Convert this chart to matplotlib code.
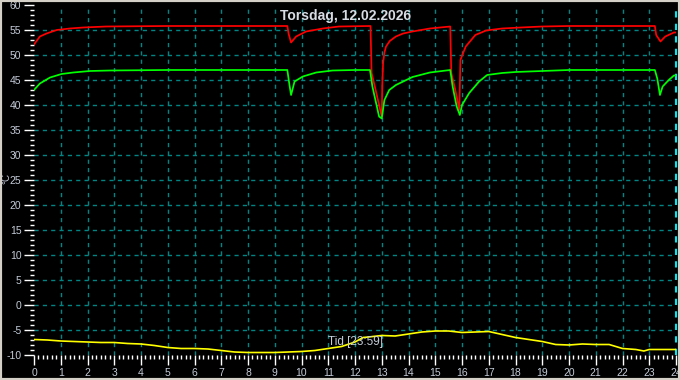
import matplotlib
matplotlib.use("Agg")
import matplotlib.pyplot as plt
from matplotlib.patches import Rectangle
from matplotlib.ticker import MultipleLocator

title = "Torsdag, 12.02.2026"
ylabel = "°C"
xlabel = "Tid [23:59]"
x_ticks = list(range(0, 25))
y_ticks = list(range(-10, 65, 5))

red_t = [0.0, 0.22, 0.47, 0.85, 1.34, 1.84, 2.7, 5.0, 9.47,
         9.52, 9.61, 9.8, 10.17, 10.8, 11.4, 12.58,
         12.62, 12.75, 12.9, 13.0, 13.02, 13.05, 13.1, 13.16, 13.3, 13.53, 13.8, 14.15, 14.8, 15.56,
         15.6, 15.75, 15.9, 15.94, 16.14, 16.5, 16.9, 17.5, 18.2, 19.0, 20.0, 23.21,
         23.26, 23.42, 23.6, 23.92, 24.0]
red_v = [52.1, 53.7, 54.3, 55.0, 55.3, 55.5, 55.7, 55.8, 55.8,
         54.2, 52.5, 53.7, 54.7, 55.3, 55.7, 55.8,
         46.4, 43.5, 40.0, 37.6, 44.0, 48.4, 50.5, 51.7, 52.8, 53.7, 54.3, 54.7, 55.3, 55.7,
         46.4, 43.0, 39.0, 49.0, 51.7, 54.0, 54.9, 55.3, 55.5, 55.7, 55.8, 55.8,
         54.0, 52.7, 53.7, 54.5, 54.5]

green_t = [0.0, 0.22, 0.6, 1.03, 1.47, 2.09, 2.84, 5.0, 9.47,
           9.55, 9.61, 9.74, 10.05, 10.55, 11.16, 12.0, 12.56,
           12.65, 12.9, 13.0, 13.1, 13.28, 13.53, 14.15, 14.8, 15.56,
           15.65, 15.8, 15.92, 16.0, 16.27, 16.64, 16.94, 17.5, 18.0, 19.0, 20.0, 23.21,
           23.3, 23.4, 23.5, 23.73, 23.92, 24.0]
green_v = [43.0, 44.3, 45.5, 46.2, 46.5, 46.8, 46.9, 47.0, 47.0,
           44.0, 42.0, 44.7, 45.7, 46.5, 46.9, 47.0, 47.0,
           43.7, 37.7, 37.3, 41.0, 43.0, 44.0, 45.6, 46.5, 47.0,
           43.7, 39.7, 38.0, 40.0, 42.4, 44.7, 46.0, 46.4, 46.6, 46.8, 47.0, 47.0,
           45.3, 42.0, 43.7, 45.0, 45.9, 45.9]

yellow_t = [0, 0.5, 1, 1.5, 2, 2.5, 3, 3.5, 4, 4.5, 5, 5.5, 6, 6.5, 7, 7.5, 8, 8.5,
            9, 9.5, 10, 10.5, 11, 11.5, 12, 12.3, 12.5, 13, 13.5, 14, 14.5, 15, 15.5,
            16, 16.5, 17, 17.5, 18, 18.5, 19, 19.5, 20, 20.5, 21, 21.5, 22, 22.5, 22.8,
            23, 24]
yellow_v = [-6.9, -7.0, -7.2, -7.3, -7.4, -7.5, -7.5, -7.7, -7.8, -8.1, -8.5, -8.7,
            -8.7, -8.8, -9.1, -9.4, -9.5, -9.5, -9.5, -9.4, -9.3, -9.1, -8.7, -8.3,
            -7.4, -6.5, -6.4, -6.1, -6.2, -5.8, -5.4, -5.2, -5.2, -5.5, -5.4, -5.3,
            -5.9, -6.5, -6.9, -7.3, -7.9, -8.0, -7.8, -7.9, -7.9, -8.7, -8.9, -9.2,
            -8.9, -8.9]

fig = plt.figure(figsize=(6.8, 3.8), dpi=100, facecolor="black")
ax = fig.add_axes([34 / 680, 25 / 380, 642 / 680, 350 / 380], facecolor="black")

txt_color = "#c4ccd8"
font = ["Liberation Sans", "DejaVu Sans"]

ax.plot(red_t, red_v, color="#ff0000", lw=1.25, zorder=3)
ax.plot(green_t, green_v, color="#00ff00", lw=1.25, zorder=3)
ax.plot(yellow_t, yellow_v, color="#ffff00", lw=1.2, zorder=3)

ax.set_xlim(0, 24)
ax.set_ylim(-10, 60)
ax.set_xticks(x_ticks)
ax.set_xticklabels([str(t) for t in x_ticks])
ax.set_yticks(y_ticks)
ax.set_yticklabels([str(t) for t in y_ticks])
ax.xaxis.set_minor_locator(MultipleLocator(1 / 6))
ax.yaxis.set_minor_locator(MultipleLocator(1))

for s in ax.spines.values():
    s.set_visible(False)

ax.tick_params(axis="both", which="major", colors="white", labelcolor=txt_color,
               labelsize=7.5, length=7, width=1, direction="out", pad=2)
ax.tick_params(axis="both", which="minor", colors="white", length=3, width=1, direction="out")
for lab in ax.get_xticklabels() + ax.get_yticklabels():
    lab.set_family(font)

for t in x_ticks[1:-1]:
    ax.axvline(t, color="#008484", lw=1, ls=(0, (3, 3)), zorder=1)
for v in y_ticks[1:-1]:
    ax.axhline(v, color="#008484", lw=1, ls=(0, (3, 3)), zorder=1)
ax.axvline(24, color="#00e8f0", lw=1.5, ls=(0, (3, 3)), zorder=2, clip_on=False)

fig.text(346 / 680, 1 - 16 / 380, title, color="#d8dce4", fontsize=10,
         ha="center", va="center", family=font, fontweight="bold")
fig.text(6 / 680, 1 - 179 / 380, ylabel, color=txt_color, fontsize=7,
         ha="center", va="center", rotation=90, family=font)
ax.text(0.5, 0.02, xlabel, transform=ax.transAxes, color=txt_color, fontsize=8.5,
        ha="center", va="bottom", family=font, zorder=4)

fig.patches.append(Rectangle((0, 0), 1, 1, transform=fig.transFigure, fill=False,
                             edgecolor="#d4d0c8", lw=3, zorder=10))

fig.savefig("out.png", dpi=100, facecolor="black")
